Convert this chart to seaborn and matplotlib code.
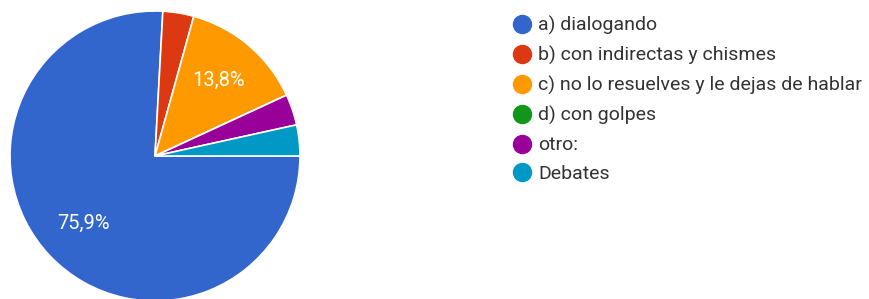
import matplotlib
matplotlib.use("Agg")
import matplotlib.pyplot as plt
import seaborn as sns
from matplotlib.lines import Line2D

labels = [
    "a) dialogando",
    "b) con indirectas y chismes",
    "c) no lo resuelves y le dejas de hablar",
    "d) con golpes",
    "otro:",
    "Debates",
]
counts = [22, 1, 4, 0, 1, 1]
colors = ["#3366cc", "#dc3912", "#ff9900", "#109618", "#990099", "#0099c6"]

sns.set_theme(style="white")
plt.rcParams["font.family"] = ["Roboto", "DejaVu Sans"]

W, H = 869, 299
fig = plt.figure(figsize=(W / 100, H / 100), dpi=100)

# pie axes in pixel coords: center (155,156), radius 145
cx, cy, r = 155, 156, 145
ax = fig.add_axes([(cx - r) / W, (H - cy - r) / H, 2 * r / W, 2 * r / H])


def fmt(p):
    if p < 5:
        return ""
    return f"{p:.1f}".replace(".", ",") + "%"


wedges, texts, autotexts = ax.pie(
    counts,
    colors=colors,
    startangle=0,
    counterclock=False,
    autopct=fmt,
    pctdistance=0.68,
    radius=1,
    wedgeprops=dict(edgecolor="white", linewidth=1.2),
    textprops=dict(color="white", fontsize=14.5),
)
ax.set_xlim(-1, 1)
ax.set_ylim(-1, 1)
ax.set_aspect("equal")
ax.axis("off")

handles = [
    Line2D([0], [0], marker="o", linestyle="", markersize=13,
           markerfacecolor=c, markeredgecolor=c)
    for c in colors
]
fig.legend(
    handles, labels,
    loc="upper left",
    bbox_to_anchor=(514 / W, 1 - 16 / H),
    frameon=False,
    fontsize=14,
    labelcolor="#333333",
    handlelength=0.8,
    handletextpad=0.45,
    labelspacing=0.56,
    borderpad=0,
    borderaxespad=0,
)

fig.savefig("out.png", dpi=100)
